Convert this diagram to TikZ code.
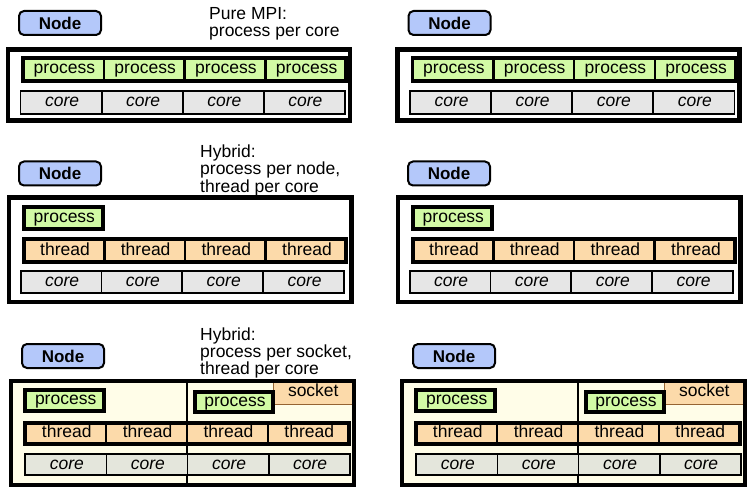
\documentclass[tikz,border=0pt]{standalone}
\usepackage{fontspec}
\setmainfont{Liberation Sans}
\definecolor{nodeblue}{RGB}{180,200,250}
\definecolor{procgreen}{RGB}{210,250,165}
\definecolor{thrpeach}{RGB}{252,218,170}
\definecolor{coregrey}{RGB}{230,230,230}
\definecolor{coregreyb}{RGB}{228,230,220}
\definecolor{sockbg}{RGB}{255,253,232}
\definecolor{sockline}{RGB}{150,100,50}
\tikzset{
  lbl/.style={draw, rounded corners=5pt, line width=2pt, fill=nodeblue,
    font=\fontsize{17}{20}\selectfont\bfseries, inner sep=0pt,
    minimum width=82pt, minimum height=24pt},
  cellbox/.style={draw, inner sep=0pt, outer sep=0pt, text height=12.5pt, text depth=3.5pt},
  procrow/.style={fill=procgreen, line width=2.5pt},
  thrrow/.style={fill=thrpeach, line width=2.5pt},
  corerow/.style={fill=coregrey, line width=1.8pt},
  corerowb/.style={fill=coregreyb, line width=1.8pt},
  rowframe/.style={line width=3.8pt},
  outerbox/.style={line width=4.5pt},
  captext/.style={anchor=base west, inner sep=0pt},
  sockbox/.style={draw=sockline, fill=thrpeach, line width=1pt, inner sep=0pt,
    minimum width=80pt, minimum height=22.5pt, text height=12.5pt, text depth=6pt},
}
% stacked caption lines, first baseline is the node's base
\newcommand\caplines[2]{\vtop{\baselineskip=#1pt\lineskiplimit=-20pt #2}}
% name, x1, x2, y1, y2, n, style, text
\newcommand\cellrow[8]{%
  \pgfmathsetmacro\cellw{(#3-#2)/#6}%
  \pgfmathsetmacro\cellh{#5-#4}%
  \foreach \i in {1,...,#6}{%
    \node[cellbox,#7,minimum width=\cellw pt,minimum height=\cellh pt]
      (#1-\i) at ({#2+(\i-0.5)*\cellw},{(#4+#5)/2}) {\hspace*{2pt}#8};
  }%
}
% prefix
\newcommand\panelpure[1]{%
  \node[lbl] (#1-node) at (60,23) {Node};
  \draw[outerbox] (8,49.5) rectangle (350,120.5);
  \cellrow{#1-proc}{23}{346}{58}{81}{4}{procrow}{process}
  \draw[rowframe] (23,58) rectangle (346,81);
  \cellrow{#1-core}{20.5}{345}{91}{114}{4}{corerow}{\textit{core}}
}
\newcommand\panelnode[1]{%
  \node[lbl] (#1-node) at (60,173.5) {Node};
  \draw[outerbox] (9,197.5) rectangle (351.5,302);
  \cellrow{#1-proc}{23.7}{103}{207}{228.7}{1}{procrow}{process}
  \draw[rowframe] (23.7,207) rectangle (103,228.7);
  \cellrow{#1-thr}{23.7}{346.3}{239.3}{262}{4}{thrrow}{thread}
  \draw[rowframe] (23.7,239.3) rectangle (346.3,262);
  \cellrow{#1-core}{20.7}{344}{271.3}{293}{4}{corerow}{\textit{core}}
}
\newcommand\panelsocket[1]{%
  \node[lbl] (#1-node) at (63,356) {Node};
  \fill[sockbg] (11,381) rectangle (354,485);
  \node[sockbox] (#1-sock) at (313.3,392.8) {socket};
  \draw[line width=2.5pt] (187,381) -- (187,485);
  \cellrow{#1-procl}{25.3}{104}{389.7}{410.7}{1}{procrow}{process}
  \draw[rowframe] (25.3,389.7) rectangle (104,410.7);
  \cellrow{#1-procr}{194.7}{273.3}{392}{412}{1}{procrow}{process}
  \draw[rowframe] (194.7,392) rectangle (273.3,412);
  \cellrow{#1-thr}{25.3}{348.7}{422.7}{444}{4}{thrrow}{thread}
  \draw[rowframe] (25.3,422.7) rectangle (348.7,444);
  \cellrow{#1-core}{25.3}{349.7}{454}{475.3}{4}{corerowb}{\textit{core}}
  \draw[outerbox] (11,381) rectangle (354,485);
}
\begin{document}
\begin{tikzpicture}[x=1pt,y=-1pt,font=\fontsize{17.5}{20}\selectfont]
\useasboundingbox (0,0) rectangle (754,494);
\fill[white] (0,0) rectangle (754,494);
% row 1
\panelpure{pa}
\begin{scope}[xshift=389.5pt]\panelpure{pb}\end{scope}
\node[captext] (cap1) at (209,19.3)
  {\caplines{17.2}{\hbox{Pure MPI:}\hbox{process per core}}};
% row 2
\panelnode{na}
\begin{scope}[xshift=389pt]\panelnode{nb}\end{scope}
\node[captext] (cap2) at (200,157.3)
  {\caplines{17.5}{\hbox{Hybrid:}\hbox{process per node,}\hbox{thread per core}}};
% row 3
\panelsocket{sa}
\begin{scope}[xshift=391pt]\panelsocket{sb}\end{scope}
\node[captext] (cap3) at (200,340)
  {\caplines{17.2}{\hbox{Hybrid:}\hbox{process per socket,}\hbox{thread per core}}};
\end{tikzpicture}
\end{document}
